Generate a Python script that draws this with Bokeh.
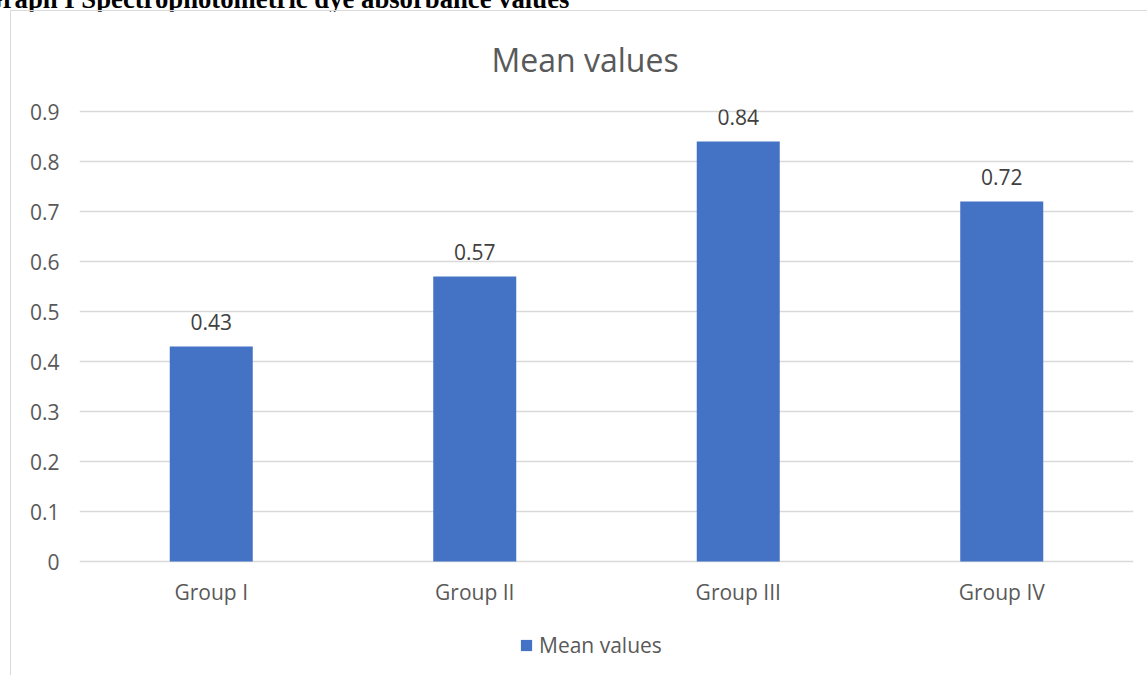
from bokeh.plotting import figure
from bokeh.models import (ColumnDataSource, LabelSet, Legend, LegendItem,
                          FixedTicker, Div)
from bokeh.layouts import column
from bokeh.core.properties import value
from bokeh.embed import file_html
from bokeh.resources import INLINE

categories = ["Group I", "Group II", "Group III", "Group IV"]
mean_values = [0.43, 0.57, 0.84, 0.72]
value_labels = ["0.43", "0.57", "0.84", "0.72"]
y_ticks = [0, 0.1, 0.2, 0.3, 0.4, 0.5, 0.6, 0.7, 0.8, 0.9]
y_tick_labels = ["0", "0.1", "0.2", "0.3", "0.4", "0.5", "0.6", "0.7", "0.8", "0.9"]
series_name = "Mean values"
chart_title = "Mean values"
caption = "Graph I Spectrophotometric dye absorbance values"

FONT = "Open Sans"
TXT = "#595959"
BAR = "#4472C4"
GRID = "#D9D9D9"

src = ColumnDataSource(dict(cat=categories, val=mean_values, lab=value_labels))

# ---- main chart -------------------------------------------------------------
p = figure(x_range=categories, y_range=(-0.004, 0.904),
           frame_width=1054, frame_height=454,
           output_backend="svg", toolbar_location=None,
           min_border_left=68, min_border_right=14, min_border_top=97,
           min_border_bottom=58, margin=(0, 0, 0, 0))
p.outline_line_color = None
p.background_fill_color = "white"
p.border_fill_color = "white"

r = p.vbar(x="cat", top="val", bottom=0, width=0.315, source=src,
           fill_color=BAR, line_color=None)

p.xgrid.grid_line_color = None
p.ygrid.grid_line_color = GRID
p.ygrid.grid_line_width = 1.5
p.yaxis.ticker = FixedTicker(ticks=y_ticks)
p.yaxis.major_label_overrides = {t: l for t, l in zip(y_ticks, y_tick_labels)}

for ax in (p.xaxis[0], p.yaxis[0]):
    ax.axis_line_color = None
    ax.major_tick_line_color = None
    ax.minor_tick_line_color = None
    ax.major_tick_out = 0
    ax.major_tick_in = 0
    ax.major_label_text_font = FONT
    ax.major_label_text_font_size = "21px"
    ax.major_label_text_color = TXT
p.yaxis.major_label_standoff = 20
p.xaxis.major_label_standoff = 14

labels = LabelSet(x="cat", y="val", text="lab", source=src, text_align="center",
                  text_baseline="alphabetic", y_offset=17, text_font=value(FONT),
                  text_font_size=value("21px"), text_color="#404040")
p.add_layout(labels)

p.title.text = chart_title
p.title.align = "left"
p.title.offset = 412
p.title.vertical_align = "top"
p.title.text_font = FONT
p.title.text_font_size = "32px"
p.title.text_font_style = "normal"
p.title.text_color = TXT
p.title.standoff = 53

# ---- legend strip (same chart area, below the axis) -------------------------
lf = figure(width=1136, height=55, output_backend="svg", toolbar_location=None,
            x_axis_location=None, y_axis_location=None,
            min_border=0, min_border_left=0, min_border_right=0,
            min_border_top=0, min_border_bottom=0, margin=(0, 0, 0, 0))
lf.outline_line_color = None
lf.grid.grid_line_color = None
lf.background_fill_color = "white"
lf.border_fill_color = "white"
# legend swatch renderer: one empty (NaN) bar, nothing visible is drawn
swatch = lf.vbar(x=[0], top=[float("nan")], width=1, fill_color=BAR,
                 line_color=None)

legend = Legend(items=[LegendItem(label=series_name, renderers=[swatch])],
                location=(440, 17), orientation="horizontal",
                glyph_width=14, glyph_height=14, label_standoff=6,
                label_text_font=FONT, label_text_font_size="21px",
                label_text_color=TXT, border_line_color=None,
                background_fill_alpha=0, padding=0, margin=0, spacing=0)
lf.add_layout(legend, "center")

chart = column(p, lf, spacing=0, margin=(0, 0, 0, 11),
               styles={"outline": "1.5px solid #D9D9D9"})

# ---- document caption above the chart (cut at the page top) ----------------
cap = Div(text=('<div style="position:relative; left:-18px; top:-14px; '
                'white-space:nowrap; font-family:\'Liberation Serif\'; '
                'font-weight:bold; font-size:26.7px; line-height:26.7px; '
                'color:black;">' + caption + '</div>'),
          width=1147, height=11, margin=(0, 0, 0, 0))

layout = column(cap, chart, spacing=0, margin=(0, 0, 0, 0))

open("out.html", "w").write(file_html(layout, INLINE))
